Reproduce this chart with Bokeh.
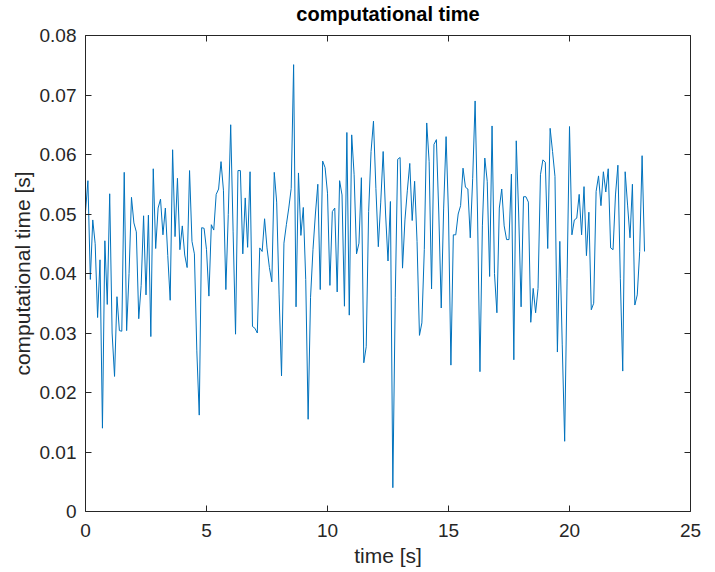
from bokeh.plotting import figure
from bokeh.models import (Range1d, FixedTicker, LinearAxis, CustomJSTickFormatter,
                          CustomLabelingPolicy)
from bokeh.embed import file_html
from bokeh.resources import INLINE

# ---- data ----
comp_time = [
    0.0504, 0.0556, 0.0390, 0.0490, 0.0450, 0.0326, 0.0423, 0.0140, 0.0455, 0.0348,
    0.0534, 0.0300, 0.0227, 0.0361, 0.0304, 0.0303, 0.0570, 0.0304, 0.0400, 0.0528,
    0.0485, 0.0470, 0.0324, 0.0380, 0.0497, 0.0364, 0.0498, 0.0294, 0.0576, 0.0442,
    0.0510, 0.0525, 0.0465, 0.0510, 0.0430, 0.0355, 0.0608, 0.0462, 0.0560, 0.0440,
    0.0480, 0.0431, 0.0410, 0.0573, 0.0454, 0.0433, 0.0270, 0.0162, 0.0477, 0.0476,
    0.0440, 0.0362, 0.0482, 0.0473, 0.0533, 0.0542, 0.0588, 0.0540, 0.0373, 0.0499,
    0.0650, 0.0470, 0.0298, 0.0573, 0.0573, 0.0433, 0.0527, 0.0444, 0.0571, 0.0311,
    0.0308, 0.0300, 0.0443, 0.0437, 0.0492, 0.0443, 0.0410, 0.0386, 0.0570, 0.0520,
    0.0364, 0.0228, 0.0451, 0.0482, 0.0510, 0.0543, 0.0751, 0.0344, 0.0569, 0.0464,
    0.0511, 0.0390, 0.0155, 0.0360, 0.0440, 0.0500, 0.0550, 0.0373, 0.0589, 0.0578,
    0.0535, 0.0380, 0.0504, 0.0510, 0.0369, 0.0556, 0.0532, 0.0345, 0.0637, 0.0330,
    0.0633, 0.0566, 0.0433, 0.0451, 0.0561, 0.0250, 0.0277, 0.0504, 0.0605, 0.0656,
    0.0543, 0.0445, 0.0520, 0.0605, 0.0500, 0.0421, 0.0521, 0.0040, 0.0360, 0.0592,
    0.0595, 0.0409, 0.0490, 0.0540, 0.0585, 0.0489, 0.0555, 0.0454, 0.0296, 0.0317,
    0.0440, 0.0653, 0.0588, 0.0374, 0.0617, 0.0625, 0.0500, 0.0342, 0.0510, 0.0630,
    0.0500, 0.0246, 0.0465, 0.0465, 0.0500, 0.0514, 0.0577, 0.0545, 0.0542, 0.0460,
    0.0560, 0.0690, 0.0500, 0.0235, 0.0480, 0.0594, 0.0555, 0.0395, 0.0648, 0.0400,
    0.0334, 0.0510, 0.0542, 0.0480, 0.0457, 0.0457, 0.0567, 0.0255, 0.0623, 0.0500,
    0.0344, 0.0529, 0.0529, 0.0520, 0.0318, 0.0375, 0.0334, 0.0375, 0.0566, 0.0591,
    0.0587, 0.0442, 0.0644, 0.0605, 0.0563, 0.0268, 0.0454, 0.0280, 0.0118, 0.0392,
    0.0647, 0.0465, 0.0490, 0.0493, 0.0533, 0.0465, 0.0546, 0.0430, 0.0503, 0.0339,
    0.0350, 0.0538, 0.0564, 0.0514, 0.0571, 0.0537, 0.0576, 0.0443, 0.0440, 0.0532,
    0.0582, 0.0392, 0.0236, 0.0571, 0.0515, 0.0460, 0.0550, 0.0347, 0.0364, 0.0437,
    0.0598, 0.0437,
]
sample_step = 0.1
time_s = [round(i * sample_step, 1) for i in range(len(comp_time))]

x_ticks = [0, 5, 10, 15, 20, 25]
y_ticks = [0, 0.01, 0.02, 0.03, 0.04, 0.05, 0.06, 0.07, 0.08]
title_text = "computational time"
x_label = "time [s]"
y_label = "computational time [s]"

# ---- styling ----
TXT = "#262626"
FONT = "Liberation Sans"
LINE = "#0072BD"

p = figure(width=715, height=572, output_backend="svg", toolbar_location=None,
           x_range=Range1d(x_ticks[0], x_ticks[-1]),
           y_range=Range1d(y_ticks[0], y_ticks[-1]),
           x_axis_location=None, y_axis_location=None,
           min_border_left=85, min_border_right=25,
           min_border_top=34, min_border_bottom=61)
p.xgrid.visible = False
p.ygrid.visible = False
p.outline_line_color = None
p.background_fill_color = "white"
p.border_fill_color = "white"

p.title.text = title_text
p.title.text_font = FONT
p.title.text_font_size = "20px"
p.title.text_font_style = "bold"
p.title.text_color = "black"
p.title.align = "center"
p.title.standoff = 0

fmt_code = "return Number(tick.toFixed(4)).toString();"
no_labels = "for (let i = 0; i < indices.size; i++) { indices.unset(i) } return indices"


def make_axis(ticks, show_labels, label=None, standoff=8, label_standoff=4):
    ax = LinearAxis(ticker=FixedTicker(ticks=ticks))
    ax.major_tick_in = 6
    ax.major_tick_out = 0
    ax.minor_tick_line_color = None
    ax.axis_line_color = TXT
    ax.axis_line_width = 1
    ax.major_tick_line_color = TXT
    ax.major_tick_line_width = 1
    ax.formatter = CustomJSTickFormatter(code=fmt_code)
    if show_labels:
        ax.major_label_text_font = FONT
        ax.major_label_text_font_size = "19px"
        ax.major_label_text_color = TXT
        ax.major_label_standoff = standoff
    else:
        ax.major_label_policy = CustomLabelingPolicy(code=no_labels)
        ax.major_label_standoff = 0
    if label:
        ax.axis_label = label
        ax.axis_label_text_font = FONT
        ax.axis_label_text_font_size = "21px"
        ax.axis_label_text_font_style = "normal"
        ax.axis_label_text_color = TXT
        ax.axis_label_standoff = label_standoff
    return ax


p.add_layout(make_axis(x_ticks, False), "above")
p.add_layout(make_axis(y_ticks, False), "right")
p.add_layout(make_axis(x_ticks, True, x_label, standoff=12, label_standoff=4), "below")
p.add_layout(make_axis(y_ticks, True, y_label, standoff=9, label_standoff=3), "left")

p.line(time_s, comp_time, line_color=LINE, line_width=1)

open("out.html", "w").write(file_html(p, INLINE))
